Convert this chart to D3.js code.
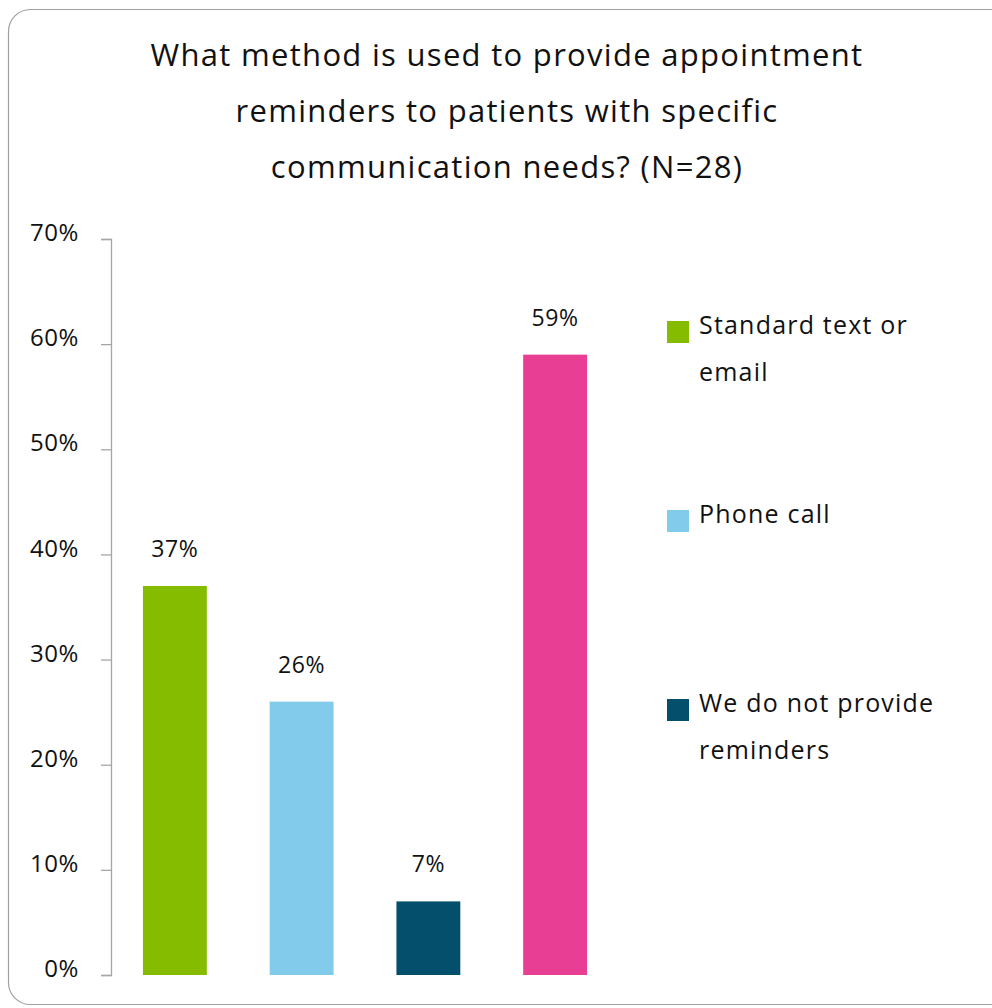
<!DOCTYPE html>
<html>
<head>
<meta charset="utf-8">
<script src="https://cdn.jsdelivr.net/npm/d3@7"></script>
<style>
  html, body { margin: 0; padding: 0; background: #fff; }
  svg { display: block; }
  text { font-family: "Open Sans", "Noto Sans", sans-serif; fill: #111; }
</style>
</head>
<body>
<svg id="chart" width="992" height="1008"></svg>
<script>
// Survey answers (N=28)
const categories = ["Standard text or email", "Phone call", "We do not provide reminders", "Other"];
const values = [37, 26, 7, 59];
const colors = ["#86bc00", "#82cbeb", "#044f6c", "#e83e94"];
const legendItems = [
  { lines: ["Standard text or", "email"], color: "#86bc00" },
  { lines: ["Phone call"], color: "#82cbeb" },
  { lines: ["We do not provide", "reminders"], color: "#044f6c" }
];
const yTicks = [0, 10, 20, 30, 40, 50, 60, 70];
const titleLines = [
  "What method is used to provide appointment",
  "reminders to patients with specific",
  "communication needs? (N=28)"
];

const svg = d3.select("#chart");

// Rounded card frame
svg.append("rect")
  .attr("x", 8.5).attr("y", 9.5)
  .attr("width", 1010).attr("height", 995)
  .attr("rx", 22).attr("ry", 22)
  .attr("fill", "#fff")
  .attr("stroke", "#a0a0a0")
  .attr("stroke-width", 1.2);

// Title
svg.append("g").selectAll("text")
  .data(titleLines)
  .join("text")
  .attr("x", 507)
  .attr("y", (d, i) => 55 + i * 56)
  .attr("dy", "0.35em")
  .attr("text-anchor", "middle")
  .attr("font-size", 31)
  .attr("letter-spacing", 1.3)
  .text(d => d);

const x = d3.scaleBand()
  .domain(categories)
  .range([111, 619])
  .paddingInner(0.496)
  .paddingOuter(0.252);

const y = d3.scaleLinear()
  .domain([0, 70])
  .range([975, 239]);

// Y axis
const yAxis = svg.append("g")
  .attr("transform", "translate(111,0)")
  .call(d3.axisLeft(y).tickValues(yTicks).tickFormat(d => d + "%").tickSize(10).tickPadding(22));
yAxis.select(".domain").attr("stroke", "#a6a6a6").attr("stroke-width", 1.3);
yAxis.selectAll(".tick line").attr("stroke", "#a6a6a6").attr("stroke-width", 1.3);
yAxis.selectAll(".tick text")
  .attr("font-size", 24)
  .attr("letter-spacing", 0.6)
  .attr("font-family", "\"Open Sans\", sans-serif")
  .attr("fill", "#111")
  .attr("dy", "0.07em");

// Bars
svg.append("g").selectAll("rect")
  .data(values)
  .join("rect")
  .attr("x", (d, i) => x(categories[i]))
  .attr("y", d => y(d))
  .attr("width", x.bandwidth())
  .attr("height", d => y(0) - y(d))
  .attr("fill", (d, i) => colors[i]);

// Value labels
svg.append("g").selectAll("text")
  .data(values)
  .join("text")
  .attr("x", (d, i) => x(categories[i]) + x.bandwidth() / 2)
  .attr("y", d => y(d) - 37)
  .attr("dy", "0.35em")
  .attr("text-anchor", "middle")
  .attr("font-size", 23)
  .attr("letter-spacing", 0.6)
  .text(d => d + "%");

// Legend
const legend = svg.append("g").selectAll("g")
  .data(legendItems)
  .join("g")
  .attr("transform", (d, i) => `translate(667,${321 + i * 189})`);
legend.append("rect")
  .attr("width", 22).attr("height", 22)
  .attr("fill", d => d.color);
legend.each(function(d) {
  d3.select(this).selectAll("text")
    .data(d.lines)
    .join("text")
    .attr("x", 32)
    .attr("y", (l, j) => 4 + j * 47)
    .attr("dy", "0.35em")
    .attr("font-size", 25)
    .attr("letter-spacing", 1.2)
    .text(l => l);
});
</script>
</body>
</html>
